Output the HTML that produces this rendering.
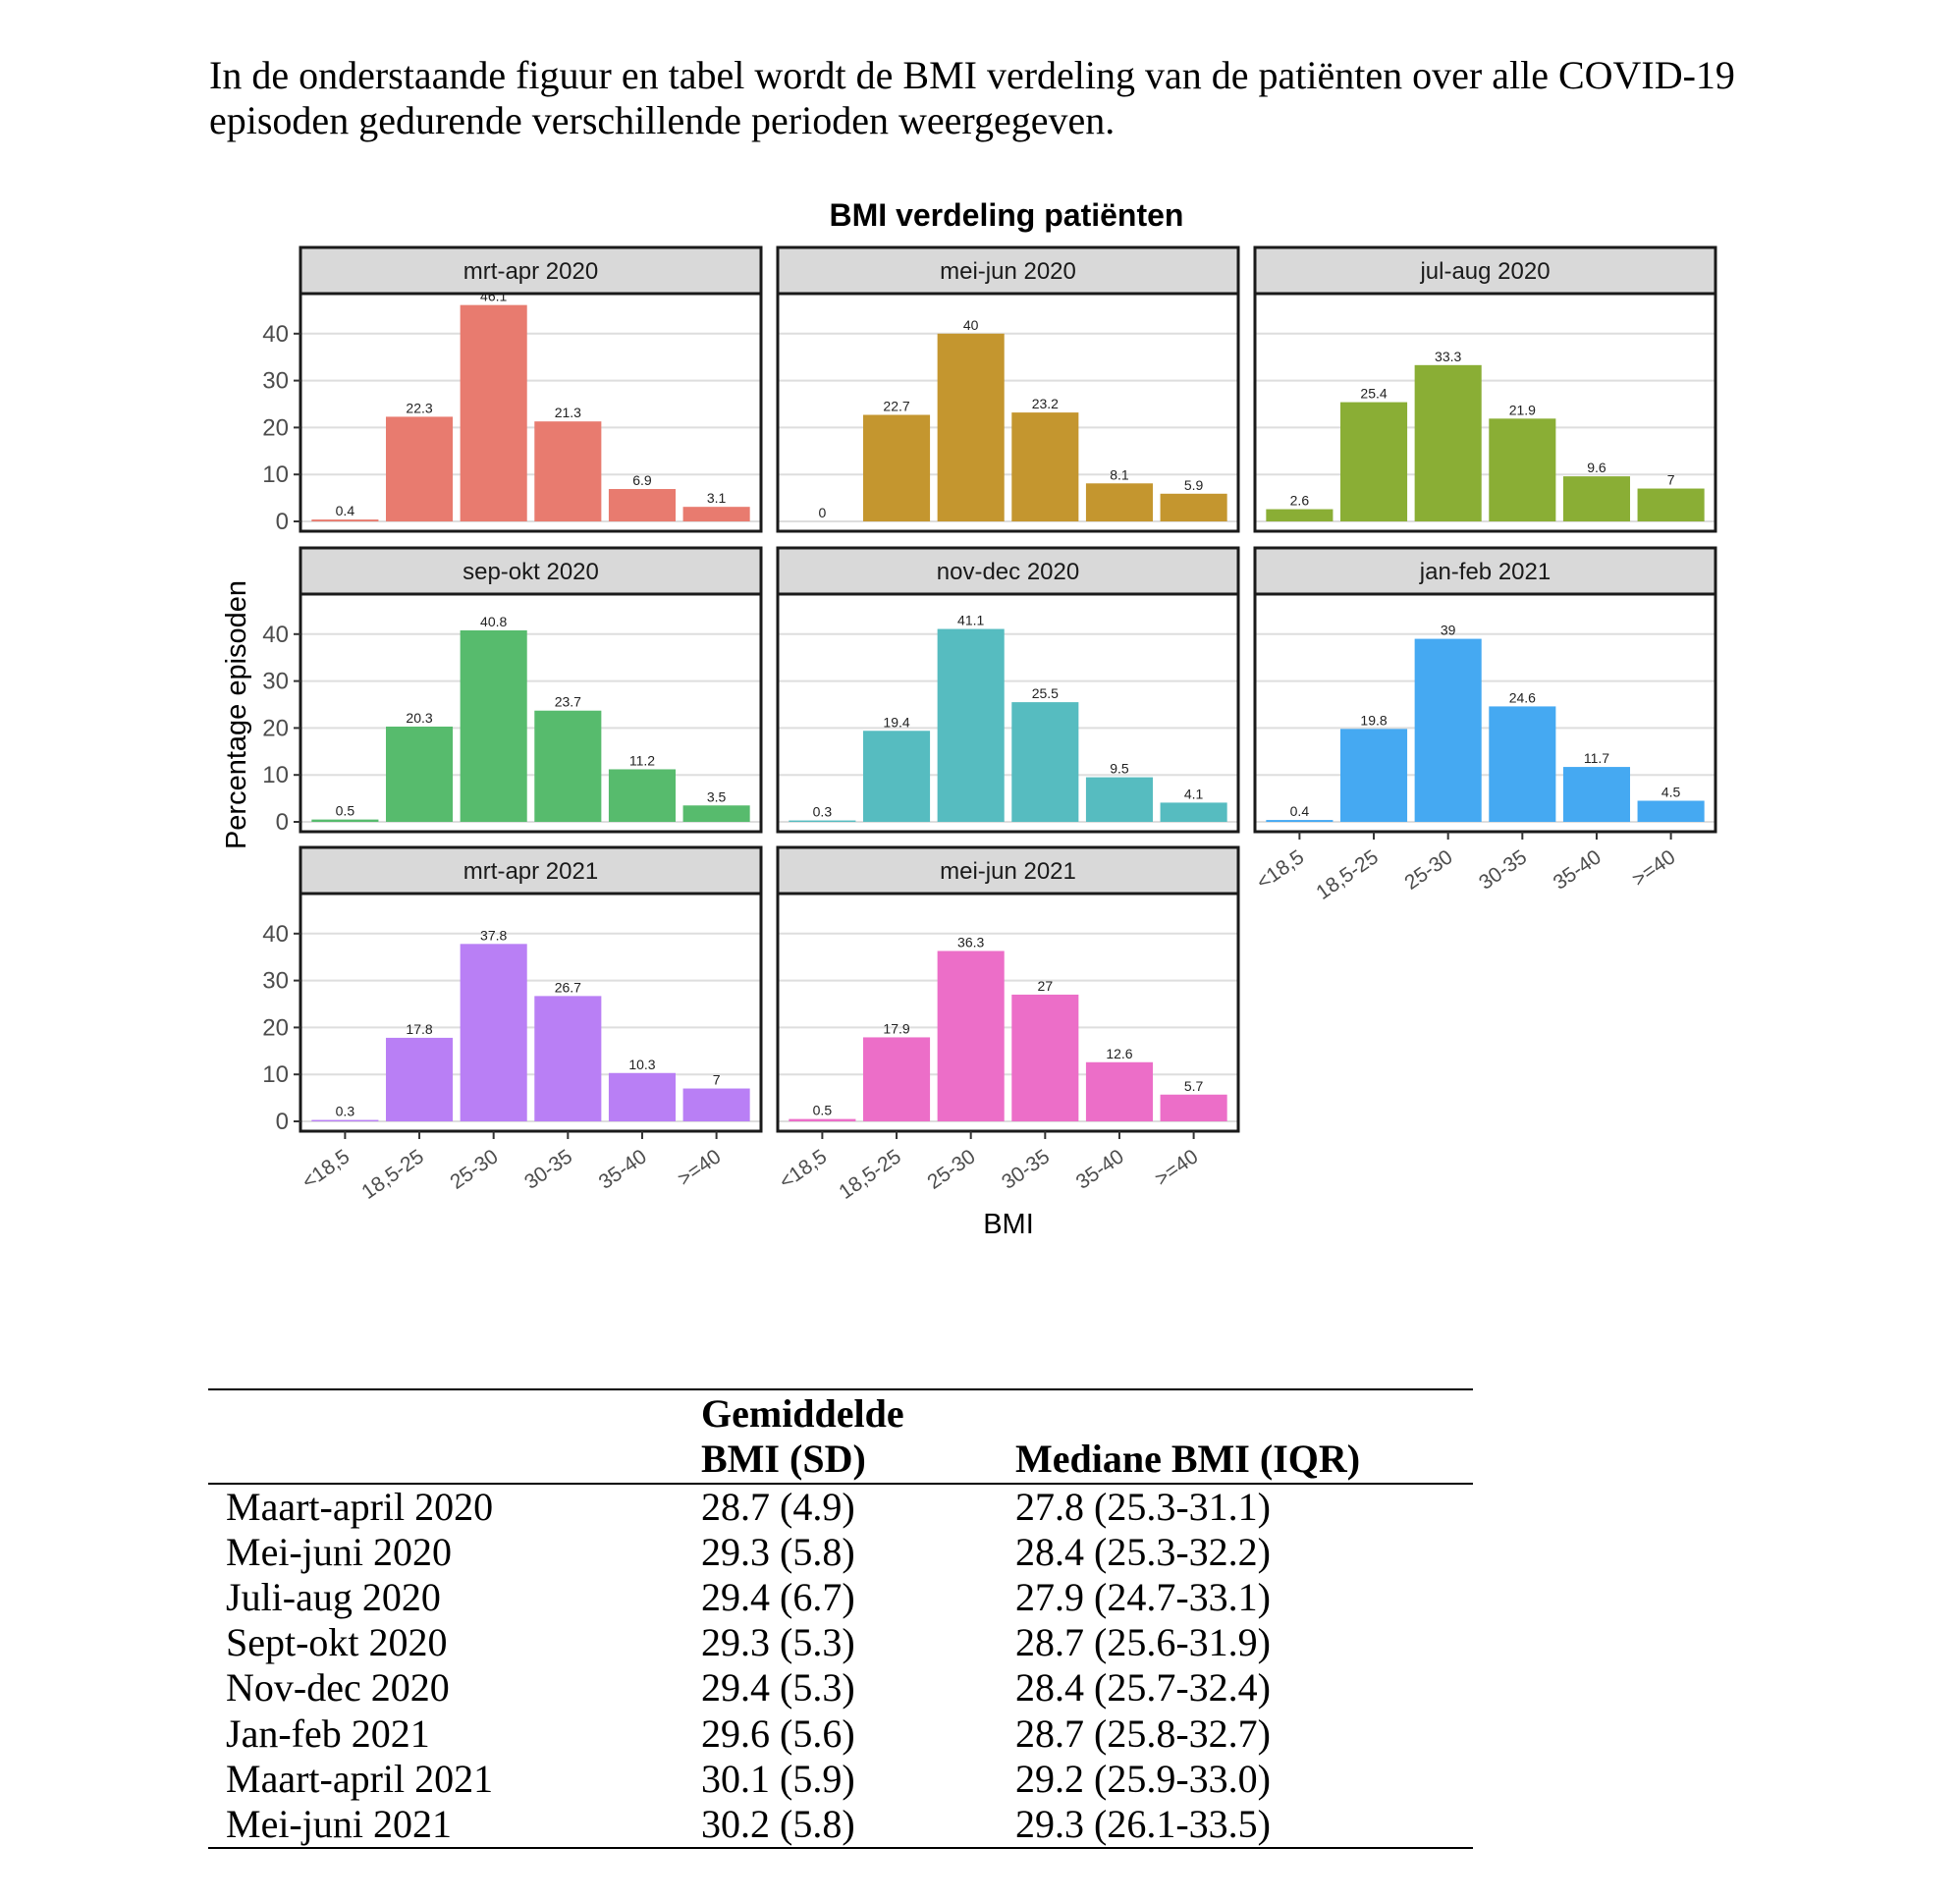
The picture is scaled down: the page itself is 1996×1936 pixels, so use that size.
<!DOCTYPE html>
<html><head><meta charset="utf-8"><style>
body{margin:0;background:#fff;width:1996px;height:1936px;overflow:hidden;position:relative;font-family:"Liberation Serif",serif;}
#intro{position:absolute;left:213px;top:54px;width:1760px;font-size:40px;line-height:46px;color:#000;margin:0;white-space:nowrap}
svg{position:absolute;left:0;top:0}
.tb{position:absolute;font-size:40px;color:#000;white-space:nowrap}
.line{position:absolute;left:212px;width:1288px;height:2px;background:#000}
</style></head><body>
<p id="intro">In de onderstaande figuur en tabel wordt de BMI verdeling van de patiënten over alle COVID-19<br>episoden gedurende verschillende perioden weergegeven.</p>
<svg id="chart" width="1996" height="1300"></svg>
<div id="table"></div>
<script>
const categories=["<18,5","18,5-25","25-30","30-35","35-40",">=40"];
const panelTitles=["mrt-apr 2020","mei-jun 2020","jul-aug 2020","sep-okt 2020","nov-dec 2020","jan-feb 2021","mrt-apr 2021","mei-jun 2021"];
const s1=[0.4,22.3,46.1,21.3,6.9,3.1];
const s2=[0,22.7,40,23.2,8.1,5.9];
const s3=[2.6,25.4,33.3,21.9,9.6,7];
const s4=[0.5,20.3,40.8,23.7,11.2,3.5];
const s5=[0.3,19.4,41.1,25.5,9.5,4.1];
const s6=[0.4,19.8,39,24.6,11.7,4.5];
const s7=[0.3,17.8,37.8,26.7,10.3,7];
const s8=[0.5,17.9,36.3,27,12.6,5.7];
const series=[s1,s2,s3,s4,s5,s6,s7,s8];
const colors=["#e87b6f","#c4962f","#8aae35","#57bb6d","#56bcc0","#45a9f2","#b97ff5","#ec6ec8"];
const yTicks=[0,10,20,30,40];

const NS="http://www.w3.org/2000/svg";
const svg=document.getElementById('chart');
function mk(tag,attrs,parent){const e=document.createElementNS(NS,tag);for(const k in attrs)e.setAttribute(k,attrs[k]);(parent||svg).appendChild(e);return e;}
const colX=[306,792,1278], PW=469;
const rowTop=[252,558,863], STRIP=47, PB=[541,847,1152];
const yUnit=4.78;
function yS(v,row){return PB[row]-10-v*yUnit;}
const band=PW/6.2;
function xC(i,px){return px+band*(0.6+i);}

let t=mk('text',{x:1025,y:230,'text-anchor':'middle','font-family':'Liberation Sans, sans-serif','font-size':32,'font-weight':'bold',fill:'#000'});
t.textContent='BMI verdeling patiënten';

series.forEach((vals,p)=>{
  const row=Math.floor(p/3),col=p%3,px=colX[col],top=rowTop[row],bot=PB[row];
  const g=mk('g',{});
  
  
  mk('rect',{x:px,y:top+STRIP,width:PW,height:bot-top-STRIP,fill:'#fff'},g);
  yTicks.forEach(v=>{mk('line',{x1:px,x2:px+PW,y1:yS(v,row),y2:yS(v,row),stroke:'#dedede','stroke-width':2},g);});
  vals.forEach((v,i)=>{
    const b=mk('rect',{x:xC(i,px)-band*0.45,y:yS(v,row),width:band*0.9,height:v*yUnit,fill:colors[p]},g);
    
    
    const l=mk('text',{x:xC(i,px),y:yS(v,row)-4,'text-anchor':'middle','font-family':'Liberation Sans, sans-serif','font-size':14,fill:'#222'},g);
    
    
    l.textContent=String(v);
  });
  mk('rect',{x:px,y:top+STRIP,width:PW,height:bot-top-STRIP,fill:'none',stroke:'#1a1a1a','stroke-width':3},g);
  const st=mk('rect',{x:px,y:top,width:PW,height:STRIP,fill:'#d9d9d9',stroke:'#1a1a1a','stroke-width':3},g);
  
  
  const stt=mk('text',{x:px+PW/2,y:top+32,'text-anchor':'middle','font-family':'Liberation Sans, sans-serif','font-size':24,fill:'#1a1a1a'},g);
  
  
  stt.textContent=panelTitles[p];
  if(col===0){
    yTicks.forEach(v=>{
      mk('line',{x1:px-7,x2:px,y1:yS(v,row),y2:yS(v,row),stroke:'#333','stroke-width':2},g);
      const yl=mk('text',{x:px-12,y:yS(v,row)+8,'text-anchor':'end','font-family':'Liberation Sans, sans-serif','font-size':24,fill:'#4d4d4d'},g);
      
      
      yl.textContent=String(v);
    });
  }
  if(p===5||p===6||p===7){
    categories.forEach((c,i)=>{
      const x=xC(i,px);
      mk('line',{x1:x,x2:x,y1:bot,y2:bot+8,stroke:'#333','stroke-width':2},g);
      const xl=mk('text',{x:0,y:0,'text-anchor':'end','font-family':'Liberation Sans, sans-serif','font-size':21,fill:'#4d4d4d',transform:`translate(${x+6},${bot+29}) rotate(-35)`},g);
      
      
      xl.textContent=c;
    });
  }
});
let yt=mk('text',{x:0,y:0,'text-anchor':'middle','font-family':'Liberation Sans, sans-serif','font-size':29,fill:'#000',transform:'translate(250,728) rotate(-90)'});
yt.textContent='Percentage episoden';
let xt=mk('text',{x:1027,y:1256,'text-anchor':'middle','font-family':'Liberation Sans, sans-serif','font-size':29,fill:'#000'});
xt.textContent='BMI';

const rowsT=[["Maart-april 2020","28.7 (4.9)","27.8 (25.3-31.1)"],["Mei-juni 2020","29.3 (5.8)","28.4 (25.3-32.2)"],["Juli-aug 2020","29.4 (6.7)","27.9 (24.7-33.1)"],["Sept-okt 2020","29.3 (5.3)","28.7 (25.6-31.9)"],["Nov-dec 2020","29.4 (5.3)","28.4 (25.7-32.4)"],["Jan-feb 2021","29.6 (5.6)","28.7 (25.8-32.7)"],["Maart-april 2021","30.1 (5.9)","29.2 (25.9-33.0)"],["Mei-juni 2021","30.2 (5.8)","29.3 (26.1-33.5)"]];
const tb=document.getElementById('table');
let h='<div class="line" style="top:1414px"></div>';
h+='<div class="line" style="top:1510px"></div>';
h+='<div class="line" style="top:1881px"></div>';
h+='<div class="tb" style="left:714px;top:1417px;font-weight:bold;line-height:46px">Gemiddelde<br>BMI (SD)</div>';
h+='<div class="tb" style="left:1034px;top:1463px;font-weight:bold;line-height:46px">Mediane BMI (IQR)</div>';
rowsT.forEach((r,i)=>{const y=1512+i*46.1;
h+=`<div class="tb" style="left:230px;top:${y}px;line-height:46px">${r[0]}</div>`;
h+=`<div class="tb" style="left:714px;top:${y}px;line-height:46px">${r[1]}</div>`;
h+=`<div class="tb" style="left:1034px;top:${y}px;line-height:46px">${r[2]}</div>`;});
tb.innerHTML=h;
</script>
</body></html>
